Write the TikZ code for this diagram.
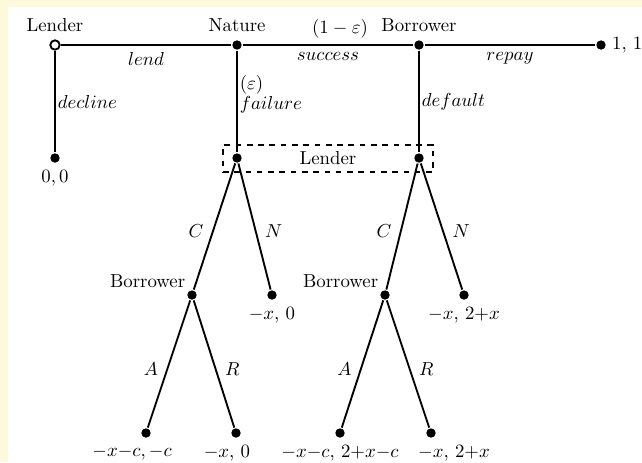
\documentclass[tikz,border=0pt]{standalone}
\usepackage{amsmath,amssymb}
\usepackage{xcolor}
\usepackage{tikz}
\definecolor{cream}{RGB}{254,248,221}

\tikzset{
  dec/.style={circle,fill=black,inner sep=0pt,minimum size=5pt},
  rootdec/.style={circle,draw=black,fill=white,inner sep=0pt,minimum size=5pt},
  act/.style={inner sep=4.5pt},
  infoset/.style={draw,dashed,line width=0.8pt,minimum width=3.925cm,minimum height=0.505cm},
}

\begin{document}
\begin{tikzpicture}[x=0.01869cm,y=-0.01869cm,line width=1pt]
  % frame
  \fill[cream] (0,0) rectangle (642,462);
  \fill[white] (8,7) rectangle (642,462);
  \useasboundingbox (0,0) rectangle (642,462);

  % first stage
  \node[rootdec,label={above:Lender}] (l0) at (55,45) {};
  \node[dec,label={above:Nature}] (n0) at (237,45) {};
  \node[dec,label={above:Borrower}] (b0) at (419,45) {};
  \node[dec,label={[inner sep=2.4pt]right:1, 1}] (t1) at (601,45) {};
  \node[dec,label={below:$0,0$}] (t0) at (55,158) {};

  % lender does not know why the loan failed
  \node[infoset] (info) at (328,158.5) {Lender};
  \node[dec] (l1) at (237,158) {};
  \node[dec] (l2) at (419,158) {};

  % second stage
  \node[dec,label={[inner sep=1pt]above left:Borrower}] (b1) at (192,295) {};
  \node[dec,label={below:$-x$, $0$}] (t2) at (272,295) {};
  \node[dec,label={[inner sep=1pt]above left:Borrower}] (b2) at (385,295) {};
  \node[dec,label={below:$-x$, $2{+}x$}] (t3) at (464,295) {};

  \node[dec,label={[xshift=-0.26cm]below:$-x{-}c,{-}c$}] (t4) at (146,433) {};
  \node[dec,label={[xshift=-0.17cm]below:$-x$, $0$}] (t5) at (236,433) {};
  \node[dec,label={below:$-x{-}c$, $2{+}x{-}c$}] (t6) at (340,433) {};
  \node[dec,label={[xshift=0.43cm]below:$-x$, $2{+}x$}] (t7) at (431,433) {};

  % moves
  \draw (l0) -- node[below]{$lend$} (n0);
  \draw (n0) -- node[below]{$success$} node[pos=0.57,above]{$(1-\varepsilon)$} (b0);
  \draw (b0) -- node[below]{$repay$} (t1);
  \draw (l0) -- node[right,inner sep=1pt]{$decline$} (t0);
  \draw (n0) -- node[pos=0.43,right,inner sep=1pt,align=left]{$(\varepsilon)$\\[-1pt]$failure$} (l1);
  \draw (b0) -- node[right,inner sep=1pt]{$default$} (l2);

  \draw (l1) -- node[act,pos=0.54,left]{$C$} (b1);
  \draw (l1) -- node[act,pos=0.54,right]{$N$} (t2);
  \draw (l2) -- node[act,pos=0.54,left]{$C$} (b2);
  \draw (l2) -- node[act,pos=0.54,right]{$N$} (t3);

  \draw (b1) -- node[act,pos=0.54,left]{$A$} (t4);
  \draw (b1) -- node[act,pos=0.54,right]{$R$} (t5);
  \draw (b2) -- node[act,pos=0.54,left]{$A$} (t6);
  \draw (b2) -- node[act,pos=0.54,right]{$R$} (t7);
\end{tikzpicture}
\end{document}
